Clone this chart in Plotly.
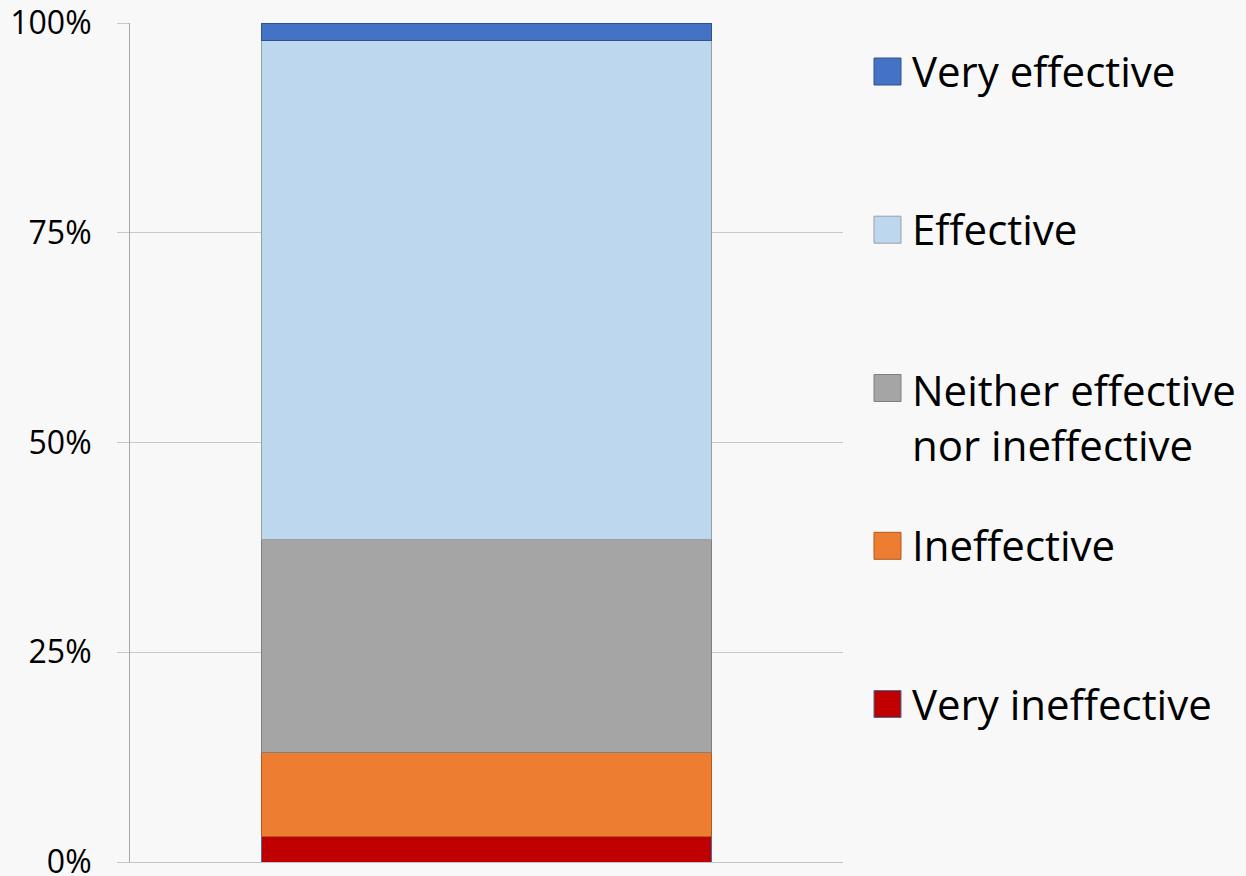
import plotly.graph_objects as go

# ---- data ----
categories = ["Very ineffective", "Ineffective", "Neither effective<br>nor ineffective",
              "Effective", "Very effective"]
values = [3.0, 10.1, 25.3, 59.5, 2.1]
group = [""]
tick_vals = [0, 25, 50, 75, 100]
tick_text = ["0%", "25%", "50%", "75%", "100%"]

# ---- styles ----
fill_colors = ["#C00000", "#ED7D31", "#A5A5A5", "#BDD7EE", "#4472C4"]
edge_colors = ["#41719C", "#AE5A21", "#7F7F7F", "#9A9FA6", "#2F528F"]

FONT = "Open Sans"
BG = "#F8F8F8"
W, H = 1246, 876
L, R, T, B = 130, 843, 23, 862  # plot area in pixels

fig = go.Figure()
for name, v, fc, ec in zip(categories, values, fill_colors, edge_colors):
    fig.add_trace(go.Bar(
        x=group, y=[v], name=name.replace("<br>", " "),
        marker=dict(color=fc, line=dict(color=ec, width=1)),
        width=0.63, showlegend=False, hoverinfo="name+y",
    ))

# manual legend (large swatches like the original)
def px_x(p):
    return (p - L) / (R - L)

def px_y(p):
    return (B - p) / (B - T)

legend_centers = [704, 545.8, 388, 229.7, 71.5]  # pixel y of each swatch centre
shapes = []
annotations = []
sq = 27
for name, fc, ec, cy in zip(categories, fill_colors, edge_colors, legend_centers):
    shapes.append(dict(type="rect", xref="paper", yref="paper",
                       x0=px_x(874), x1=px_x(874 + sq),
                       y0=px_y(cy + sq / 2), y1=px_y(cy - sq / 2),
                       fillcolor=fc, line=dict(color=ec, width=1)))
    if "<br>" in name:
        ty = px_y(cy + 29)
    else:
        ty = px_y(cy - 1)
    annotations.append(dict(xref="paper", yref="paper", x=px_x(910), y=ty,
                            xanchor="left", yanchor="middle", align="left",
                            text=name, showarrow=False,
                            font=dict(family=FONT, size=42, color="#000000")))

fig.update_layout(
    width=W, height=H,
    margin=dict(l=L, r=W - R, t=T, b=H - B, pad=0, autoexpand=False),
    paper_bgcolor=BG, plot_bgcolor=BG,
    barmode="stack",
    showlegend=False,
    font=dict(family=FONT, color="#000000"),
    shapes=shapes,
    annotations=annotations,
    xaxis=dict(showticklabels=False, showgrid=False, zeroline=False,
               showline=True, linecolor="#C4C4C4", linewidth=1,
               range=[-0.5, 0.5], fixedrange=True, automargin=False),
    yaxis=dict(range=[0, 100], tickvals=tick_vals, ticktext=tick_text,
               showgrid=True, gridcolor="#C8C8C8", gridwidth=1,
               zeroline=False, showline=True, linecolor="#A6A6A6", linewidth=1,
               ticks="outside", ticklen=12, tickcolor="#C8C8C8",
               ticklabelstandoff=19, automargin=False,
               ticklabeloverflow="allow",
               tickfont=dict(family=FONT, size=32, color="#000000")),
)

fig.write_html(
    "out.html",
    config={"displayModeBar": False},
    post_script="document.body.style.margin='0';document.body.style.background='%s';" % BG,
)
